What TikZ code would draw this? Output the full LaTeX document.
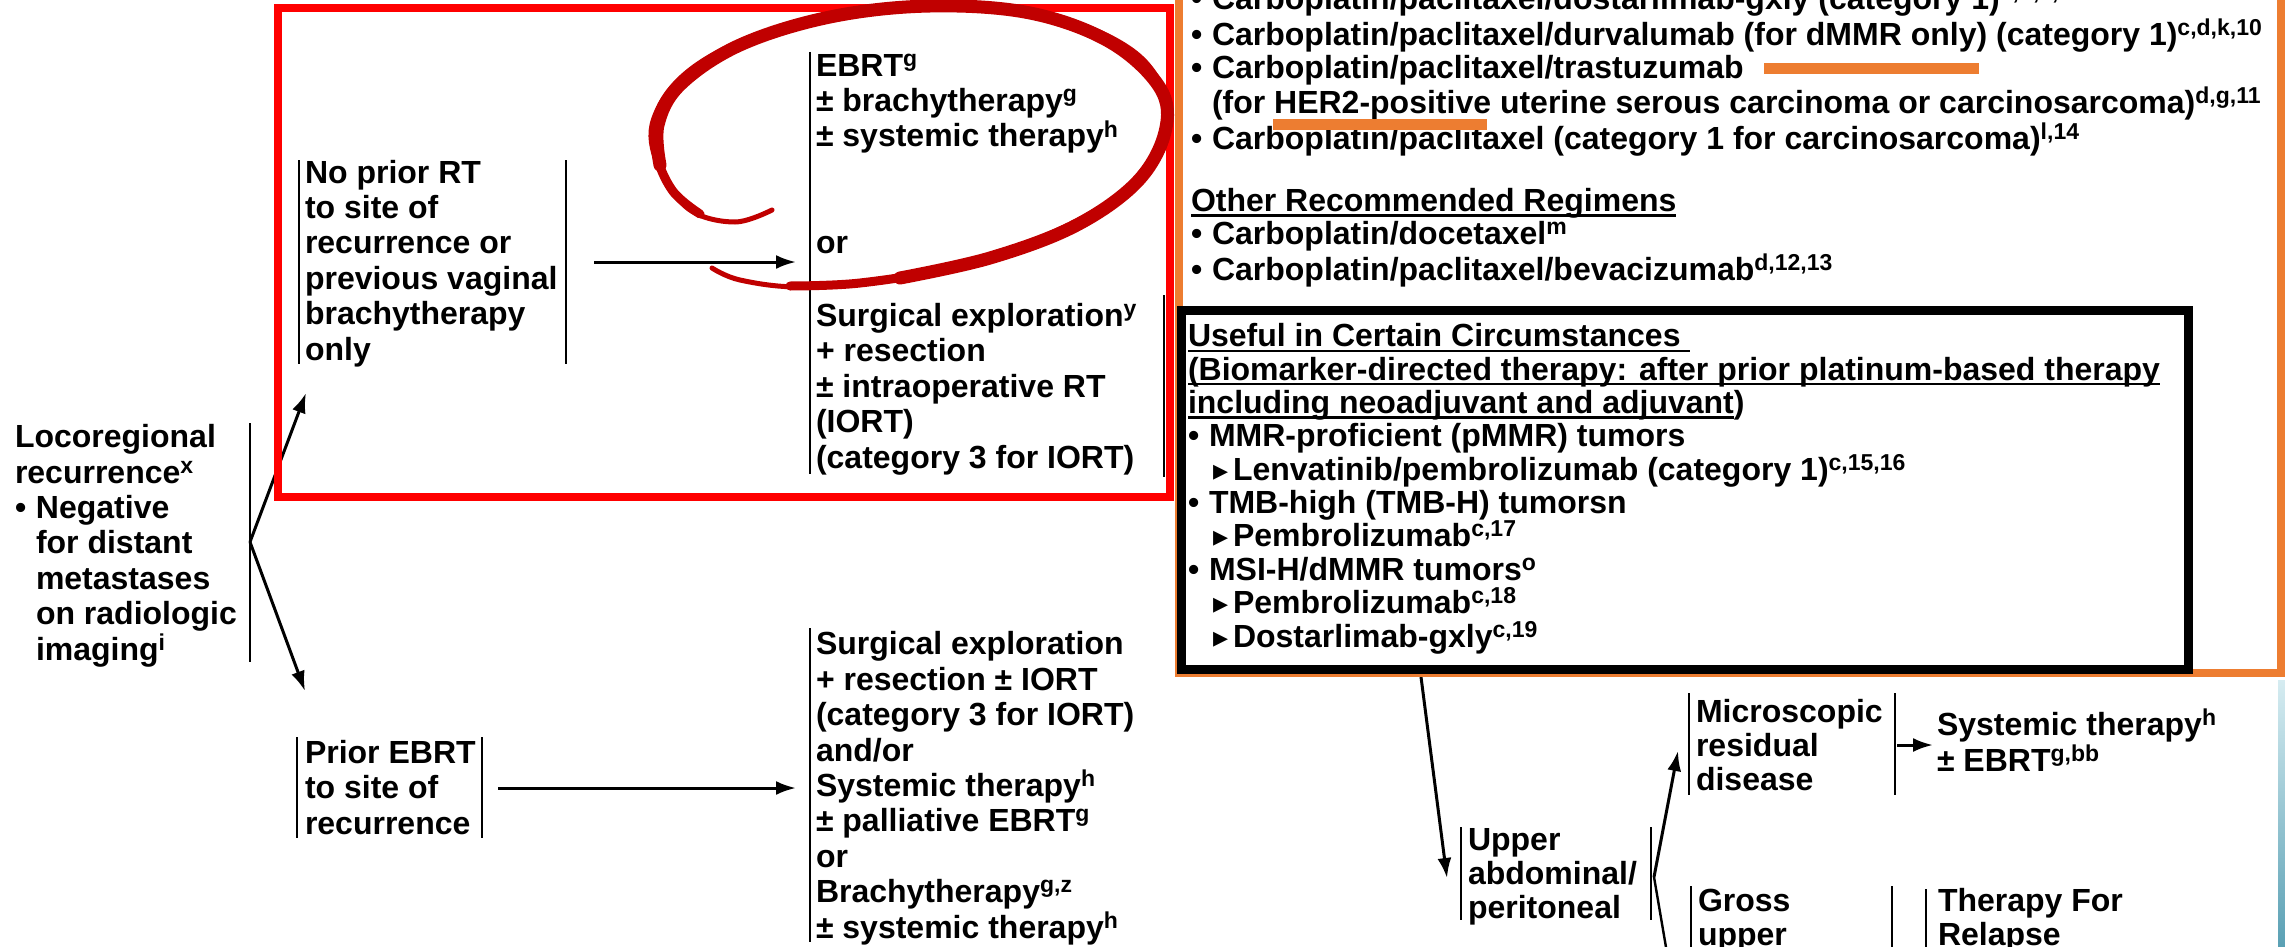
\documentclass[tikz,border=0pt]{standalone}
\usepackage{fontspec}
\setmainfont{Liberation Sans}
\newfontfamily\dejavufont{DejaVu Sans}
\usetikzlibrary{arrows.meta}
\definecolor{boxred}{RGB}{255,0,0}
\definecolor{circred}{RGB}{192,0,0}
\definecolor{boxorange}{RGB}{237,125,49}
\definecolor{stripA}{RGB}{214,236,241}
\definecolor{stripB}{RGB}{90,160,180}
\newsavebox\myulbox
\newcommand\myul[1]{\sbox\myulbox{#1}\rlap{\rule[-2.6pt]{\wd\myulbox}{1.3pt}}\usebox\myulbox}
\newcommand\mysup[1]{\raisebox{5pt}{\fontsize{11.5}{11.5}\selectfont #1}}
\newcommand\mytri{{\dejavufont\fontsize{15}{15}\selectfont ▸}}
\newcommand\mybul{\makebox[10.5pt][l]{•}}
\begin{document}
% note: for multi-line nodes the base anchor lies on the LAST line
\begin{tikzpicture}[x=0.5pt,y=-0.5pt,
  txt/.style={font=\fontsize{16}{17.7}\selectfont\bfseries, inner sep=0pt, outer sep=0pt, anchor=base west, align=left},
  txtr/.style={txt, font=\fontsize{16}{16.5}\selectfont\bfseries},
  txtb/.style={txt, font=\fontsize{16}{16.67}\selectfont\bfseries},
  txtu/.style={txt, font=\fontsize{16}{17}\selectfont\bfseries},
  bar/.style={line width=1pt, black},
  conn/.style={line width=1.5pt, black, -{Latex[length=10pt,width=7pt]}},
  plain/.style={line width=1.2pt, black},
  brush/.style={circred, line cap=round}]
\useasboundingbox (0,0) rectangle (2285,947);
\fill[white] (0,0) rectangle (2285,947);

% ---------- left part ----------
\node[txt] (loco) at (15,660) {Locoregional\\recurrence\mysup{x}\\\mybul Negative\\\hspace*{10.5pt}for distant\\\hspace*{10.5pt}metastases\\\hspace*{10.5pt}on radiologic\\\hspace*{10.5pt}imaging\mysup{i}};
\draw[bar] (250,423) -- (250,662);
\coordinate (fork) at (250,542);
\coordinate (noprtip) at (306,393);
\coordinate (prtip) at (305,691);
\draw[conn] (fork) -- (noprtip);
\draw[conn] (fork) -- (prtip);

\node[txt] (noprior) at (305,360) {No prior RT\\to site of\\recurrence or\\previous vaginal\\brachytherapy\\only};
\draw[bar] (299,160) -- (299,364);
\draw[bar] (566,160) -- (566,364);
\coordinate (npout) at (594,262);
\coordinate (npin) at (796,262);
\draw[conn] (npout) -- (npin);

\node[txt] (ebrt) at (816,147) {EBRT\mysup{g}\\± brachytherapy\mysup{g}\\± systemic therapy\mysup{h}};
\node[txt] (or1) at (816,253) {or};
\node[txt] (surg1) at (816,468) {Surgical exploration\mysup{y}\\+ resection\\± intraoperative RT\\(IORT)\\(category 3 for IORT)};
\draw[bar] (810,52) -- (810,474);
\draw[bar] (1164,295) -- (1164,477);

\node[txt] (prior) at (305,834) {Prior EBRT\\to site of\\recurrence};
\draw[bar] (297,737) -- (297,838);
\draw[bar] (482,737) -- (482,838);
\coordinate (prout) at (498,788);
\coordinate (prin) at (796,788);
\draw[conn] (prout) -- (prin);

\node[txt] (surg2) at (816,938) {Surgical exploration\\+ resection ± IORT\\(category 3 for IORT)\\and/or\\Systemic therapy\mysup{h}\\± palliative EBRT\mysup{g}\\or\\Brachytherapy\mysup{g,z}\\± systemic therapy\mysup{h}};
\draw[bar] (810,628) -- (810,942);

% ---------- right top (orange) ----------
\node[txtr] (regs) at (1191,149) {\mybul Carboplatin/paclitaxel/dostarlimab-gxly (category 1)\mysup{c,d,k,9}\\\mybul Carboplatin/paclitaxel/durvalumab (for dMMR only) (category 1)\mysup{c,d,k,10}\\\mybul Carboplatin/paclitaxel/trastuzumab\\\hspace*{10.5pt}(for HER2-positive uterine serous carcinoma or carcinosarcoma)\mysup{d,g,11}\\\mybul Carboplatin/paclitaxel (category 1 for carcinosarcoma)\mysup{l,14}};
\node[txtr] (other) at (1191,280) {\myul{Other Recommended Regimens}\\\mybul Carboplatin/docetaxel\mysup{m}\\\mybul Carboplatin/paclitaxel/bevacizumab\mysup{d,12,13}};
\node[txtb] (useful) at (1188,647) {\myul{Useful in Certain Circumstances\ }\\\myul{(Biomarker-directed therapy: after prior platinum-based therapy}\\\myul{including neoadjuvant and adjuvant})\\\mybul MMR-proficient (pMMR) tumors\\\hspace*{12.5pt}\makebox[10pt][l]{\mytri}Lenvatinib/pembrolizumab (category 1)\mysup{c,15,16}\\\mybul TMB-high (TMB-H) tumorsn\\\hspace*{12.5pt}\makebox[10pt][l]{\mytri}Pembrolizumab\mysup{c,17}\\\mybul MSI-H/dMMR tumors\mysup{o}\\\hspace*{12.5pt}\makebox[10pt][l]{\mytri}Pembrolizumab\mysup{c,18}\\\hspace*{12.5pt}\makebox[10pt][l]{\mytri}Dostarlimab-gxly\mysup{c,19}};

% ---------- bottom right ----------
\coordinate (blackout) at (1421,677);
\coordinate (upin) at (1447,878);
\draw[conn] (blackout) -- (upin);
\node[txtu] (upper) at (1468,918) {Upper\\abdominal/\\peritoneal};
\draw[bar] (1461,827) -- (1461,920);
\draw[bar] (1651,827) -- (1651,920);
\coordinate (apex) at (1654,877);
\coordinate (microtip) at (1678,751);
\coordinate (grossend) at (1675,1000);
\draw[conn] (apex) -- (microtip);
\draw[plain] (apex) -- (grossend);
\node[txtu] (micro) at (1696,790) {Microscopic\\residual\\disease};
\draw[bar] (1689,693) -- (1689,795);
\draw[bar] (1895,693) -- (1895,795);
\coordinate (miout) at (1897,745);
\coordinate (miin) at (1933,745);
\draw[conn] (miout) -- (miin);
\node[txt, font=\fontsize{16}{15.5}\selectfont\bfseries] (sysebrt) at (1937,771) {Systemic therapy\mysup{h}\\± EBRT\mysup{g,bb}};
\node[txtu] (gross) at (1698,945) {Gross\\upper};
\draw[bar] (1691,886) -- (1691,960);
\draw[bar] (1892,886) -- (1892,960);
\node[txtu] (relapse) at (1938,945) {Therapy For\\Relapse};
\draw[bar] (1926,889) -- (1926,960);

% ---------- annotation boxes ----------
\shade[top color=stripA, bottom color=stripB] (2278,680) rectangle (2285,947);
\draw[boxorange, line width=4pt] (1179,-20) rectangle (2281,673);
\draw[boxred, line width=4pt] (278,8) rectangle (1170,497);
\draw[black, line width=4.5pt] (1181,310) rectangle (2188,669);
\draw[boxorange, line width=5.5pt] (1764,69) -- (1979,69);
\draw[boxorange, line width=5.5pt] (1273,125) -- (1487,125);
% hand-drawn ellipse, layered to imitate a tapering brush stroke
\draw[brush, line width=2.5pt] plot[smooth, tension=0.6] coordinates {(772,210) (735,222) (690,210) (660,170) (652,125) (680,80) (740,42) (830,15) (930,6) (1030,12) (1110,40) (1160,85) (1168,130) (1140,180) (1080,225) (990,258) (890,280) (800,287) (740,280) (712,268)};
\draw[brush, line width=4.5pt] plot[smooth, tension=0.6] coordinates {(700,214) (672,190) (656,150) (662,105) (700,65) (770,32) (860,11) (960,6) (1060,20) (1135,55) (1166,105) (1158,155) (1115,200) (1040,240) (950,268) (860,283) (790,286)};
\draw[brush, line width=6.5pt] plot[smooth, tension=0.6] coordinates {(660,165) (658,125) (680,85) (740,45) (830,17) (930,6) (1030,13) (1110,42) (1160,88) (1165,132) (1137,182) (1075,226) (990,258) (900,278)};
\end{tikzpicture}
\end{document}
